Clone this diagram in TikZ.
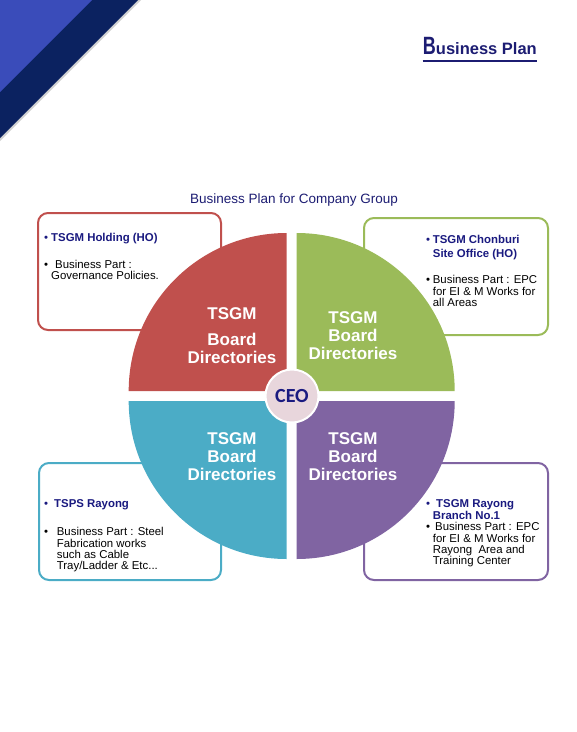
\documentclass[tikz,border=0pt]{standalone}
\usepackage{fontspec}
\setmainfont{Liberation Sans}
\newfontfamily\ceofont{Carlito}
\usepackage{tikz}
\usetikzlibrary{positioning}

\definecolor{qred}{HTML}{C0504D}
\definecolor{qgreen}{HTML}{9BBB59}
\definecolor{qteal}{HTML}{4BACC6}
\definecolor{qpurple}{HTML}{8064A2}
\definecolor{cornerblue}{HTML}{3A4CBA}
\definecolor{cornernavy}{HTML}{0B2260}
\definecolor{titlenavy}{HTML}{1C1C72}
\definecolor{boxnavy}{HTML}{1A1A80}
\definecolor{ceopink}{HTML}{E8D6DC}

\newcommand{\bitem}[1]{\makebox[#1][l]{•}}
\newcommand{\cont}[1]{\hspace*{#1}}

\begin{document}
\begin{tikzpicture}[x=1pt,y=-1pt]

  \tikzstyle{infobox}=[draw,line width=2pt,rounded corners=10pt,fill=white,anchor=north west,minimum height=117]
  \tikzstyle{boxtext}=[anchor=north west,inner sep=0pt,align=left,font=\fontsize{11.4}{11.3}\selectfont]
  \tikzstyle{quadtext}=[text=white,align=center,inner sep=0pt,font=\fontsize{17}{18}\selectfont\bfseries]

  \useasboundingbox (0,0) rectangle (577,732);

  % corner band
  \fill[black!18] (0,0) -- (141,0) -- (0,141) -- cycle;
  \fill[cornernavy] (0,0) -- (138,0) -- (0,138) -- cycle;
  \fill[cornerblue] (0,0) -- (92,0) -- (0,92) -- cycle;

  % page title
  \node[anchor=base east,inner sep=0pt,text=titlenavy,font=\bfseries] (title) at (537,54)
    {\fontsize{25}{25}\selectfont\scalebox{0.72}[1]{B}\fontsize{16.5}{17}\selectfont usiness Plan};
  \draw[titlenavy,line width=1.1pt] ([yshift=-7pt]title.base west) -- ([yshift=-7pt]title.base east);

  \node[text=titlenavy,font=\fontsize{13.5}{14}\selectfont] (subtitle) at (294,200) {Business Plan for Company Group};

  % boxes behind the circle
  \node[infobox,draw=qred,minimum width=183] (holdbox) at (37,212) {};
  \node[infobox,draw=qgreen,minimum width=184] (chonbox) at (363,217) {};
  \node[infobox,draw=qteal,minimum width=182] (tspsbox) at (38,462) {};
  \node[infobox,draw=qpurple,minimum width=184] (rayongbox) at (363,462) {};

  % quadrants
  \fill[qred] (286.7,391) -- ++(-158,0) arc[start angle=180,end angle=270,radius=158] -- cycle;
  \fill[qgreen] (296.7,391) -- ++(0,-158) arc[start angle=270,end angle=360,radius=158] -- cycle;
  \fill[qpurple] (296.7,401) -- ++(158,0) arc[start angle=0,end angle=90,radius=158] -- cycle;
  \fill[qteal] (286.7,401) -- ++(0,158) arc[start angle=90,end angle=180,radius=158] -- cycle;

  \node[quadtext] (redtxt) at (232,335.5) {TSGM\\[8pt]Board\\Directories};
  \node[quadtext] (greentxt) at (353,336) {TSGM\\Board\\Directories};
  \node[quadtext] (tealtxt) at (232,457) {TSGM\\Board\\Directories};
  \node[quadtext] (purpletxt) at (353,457) {TSGM\\Board\\Directories};

  \node[circle,fill=ceopink,draw=white,line width=2pt,minimum size=53,inner sep=0pt,
    text=boxnavy,font=\ceofont\bfseries\fontsize{20}{20}\selectfont] (ceo) at (292,396) {CEO};

  % box texts
  \node[boxtext] (holdtxt) at (44,233)
    {\color{boxnavy}\bitem{7pt}\textbf{TSGM Holding (HO)}\\[15.5pt]
     \bitem{11pt}Business Part :\\
     \cont{7pt}Governance Policies.};
  \node[boxtext] (chontxt) at (426,235)
    {\color{boxnavy}\bitem{6.7pt}\textbf{TSGM Chonburi}\\[2.3pt]
     \color{boxnavy}\cont{6.7pt}\textbf{Site Office (HO)}\\[15.5pt]
     \bitem{6.7pt}Business Part : EPC\\
     \cont{6.7pt}for EI \& M Works for\\
     \cont{6.7pt}all Areas};
  \node[boxtext] (tspstxt) at (44,499.3)
    {\color{boxnavy}\bitem{10pt}\textbf{TSPS Rayong}\\[17pt]
     \bitem{12.7pt}Business Part : Steel\\
     \cont{12.7pt}Fabrication works\\
     \cont{12.7pt}such as Cable\\
     \cont{12.7pt}Tray/Ladder \& Etc...};
  \node[boxtext] (rayongtxt) at (426,499.7)
    {\color{boxnavy}\bitem{10pt}\textbf{TSGM Rayong}\\
     \color{boxnavy}\cont{6.7pt}\textbf{Branch No.1}\\[0.4pt]
     \bitem{9pt}Business Part : EPC\\
     \cont{6.7pt}for EI \& M Works for\\
     \cont{6.7pt}Rayong\ \ Area and\\
     \cont{6.7pt}Training Center};

\end{tikzpicture}
\end{document}
